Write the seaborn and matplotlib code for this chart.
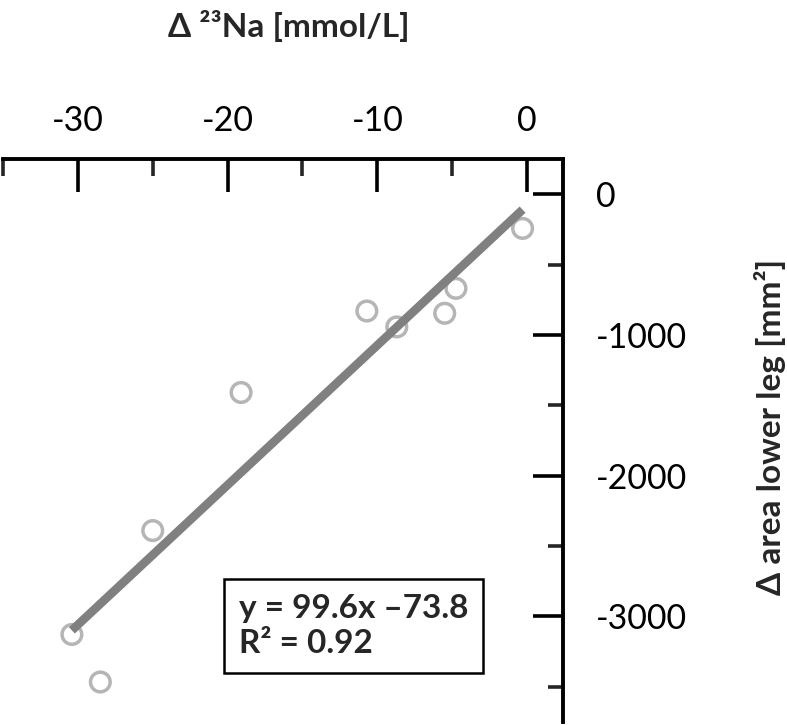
# Sodium change vs lower-leg area change, scatter with linear fit
import numpy as np
import matplotlib
matplotlib.use("Agg")
import matplotlib.pyplot as plt
from matplotlib.ticker import MultipleLocator
import seaborn as sns

# ------------------------------
# data
# ------------------------------
delta_na = [-30.4, -28.5, -25.0, -19.1, -10.7, -8.7, -5.5, -4.75, -0.3]
delta_area = [-3128, -3466, -2390, -1409, -830, -943, -846, -669, -243]

x_ticks = [-30, -20, -10, 0]
y_ticks = [0, -1000, -2000, -3000]
fit_text = "y = 99.6x \u201373.8\nR\u00b2 = 0.92"

# ------------------------------
# style
# ------------------------------
sns.set_style("white")
plt.rcParams["font.family"] = ["Lato", "DejaVu Sans"]
plt.rcParams["axes.unicode_minus"] = False

fig = plt.figure(figsize=(7.87, 7.25), dpi=100)
ax = fig.add_axes([3 / 787, 3 / 725, 560 / 787, 563 / 725])

sns.regplot(
    x=np.array(delta_na),
    y=np.array(delta_area),
    ci=None,
    truncate=True,
    ax=ax,
    scatter_kws=dict(color="#a3a3a3", facecolors="none", s=200, linewidths=2.5),
    line_kws=dict(color="#808080", linewidth=6.2, solid_capstyle="butt"),
)

ax.set_xlim(-35, 2.4)
ax.set_ylim(-3750, 250)

# axes on top / right like the original
for side in ["left", "bottom"]:
    ax.spines[side].set_visible(False)
for side in ["top", "right"]:
    ax.spines[side].set_linewidth(2.8)
    ax.spines[side].set_color("black")

ax.xaxis.tick_top()
ax.yaxis.tick_right()
ax.set_xticks(x_ticks)
ax.set_yticks(y_ticks)
ax.xaxis.set_minor_locator(MultipleLocator(5))
ax.yaxis.set_minor_locator(MultipleLocator(500))

ax.tick_params(axis="x", which="major", direction="in", length=23.5, width=2.6,
               pad=16, labelsize=24.5, colors="black")
ax.tick_params(axis="x", which="minor", direction="in", length=12, width=2.6)
ax.tick_params(axis="y", which="major", direction="in", length=21.5, width=2.6,
               pad=24, labelsize=24.5, colors="black")
ax.tick_params(axis="y", which="minor", direction="in", length=11, width=2.6)

ax.set_xlabel("\u0394 \u00b2\u00b3Na [mmol/L]", fontsize=24, fontweight="bold")
ax.xaxis.set_label_position("top")
ax.xaxis.set_label_coords(0.51, 1.236)
ax.xaxis.label.set_va("center")

ax.set_ylabel("\u0394 area lower leg [mm\u00b2]", fontsize=24, fontweight="bold")
ax.yaxis.set_label_position("right")
ax.yaxis.set_label_coords(1.37, 0.524)
ax.yaxis.label.set_va("center")
ax.yaxis.label.set_rotation(90)

ax.text(
    0.421, 0.1705, fit_text,
    transform=ax.transAxes,
    ha="left", va="center",
    fontsize=24, fontweight="bold",
    linespacing=1.25,
    bbox=dict(boxstyle="square,pad=0.45", facecolor="white",
              edgecolor="black", linewidth=1.8),
)

fig.savefig("out.png", dpi=100)
